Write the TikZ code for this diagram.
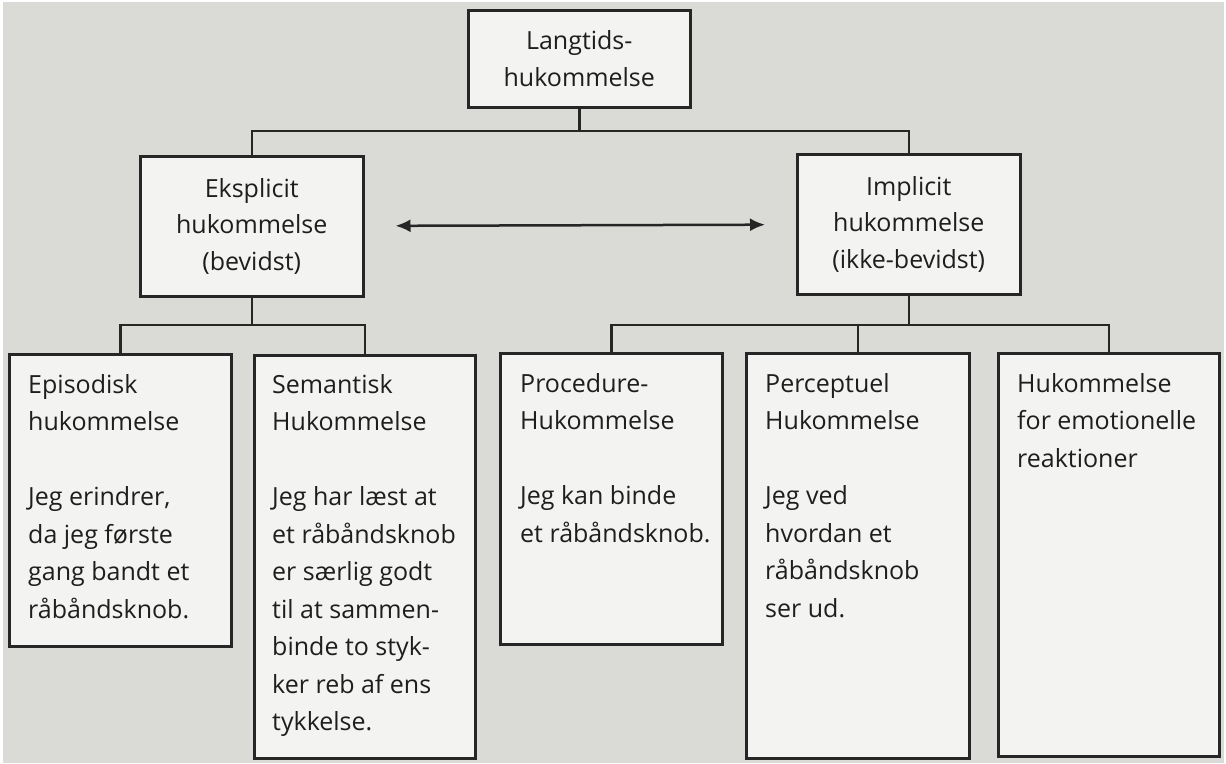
\documentclass[tikz,border=0pt]{standalone}
\usepackage{fontspec}
\setmainfont{Open Sans}
\usetikzlibrary{arrows.meta}
\definecolor{bgcol}{HTML}{DADAD6}
\definecolor{boxfill}{HTML}{F3F3F1}
\definecolor{linecol}{HTML}{262626}
\definecolor{txtcol}{HTML}{1E1E1E}
\begin{document}
\begin{tikzpicture}[x=1pt,y=-1pt,
  box/.style={draw=linecol, line width=2.5pt, fill=boxfill, inner sep=0pt, anchor=north west},
  topbox/.style={box, align=center, text=txtcol, font=\fontsize{25}{36.5}\selectfont},
  btxt/.style={anchor=north west, inner sep=0pt, align=left, text=txtcol, font=\fontsize{25}{37.5}\selectfont},
  conn/.style={draw=linecol, line width=2.5pt},
  dbl/.style={conn, {Latex[length=15pt,width=13pt]}-{Latex[length=15pt,width=13pt]}, shorten <=31pt, shorten >=31pt}]
% background
\fill[white] (0,0) rectangle (1226,763);
\fill[bgcol] (3,2) rectangle (1224,763);
\useasboundingbox (0,0) rectangle (1226,763);
% helper levels
\coordinate (hy1) at (0,131);
\coordinate (hy2) at (0,325);
% top level
\node[topbox, minimum width=222pt, minimum height=97pt] (lt) at (467,9) {Langtids-\\hukommelse};
\node[topbox, minimum width=223pt, minimum height=140pt] (ek) at (139,155) {Eksplicit\\hukommelse\\(bevidst)};
\node[topbox, minimum width=223pt, minimum height=140pt] (im) at (796,153) {Implicit\\hukommelse\\(ikke-bevidst)};
% bottom boxes
\node[box, minimum width=222pt, minimum height=292pt] (epi) at (8,353) {};
\node[box, minimum width=221pt, minimum height=403pt] (sem) at (253,354) {};
\node[box, minimum width=222pt, minimum height=291pt] (pro) at (499,352) {};
\node[box, minimum width=223pt, minimum height=405pt] (per) at (745,352) {};
\node[box, minimum width=221pt, minimum height=403pt] (emo) at (997,352) {};
% texts in bottom boxes
\node[btxt] (epit) at ([shift={(20,13.75)}]epi.north west) {\strut Episodisk\\hukommelse\\[37.5pt]Jeg erindrer,\\da jeg første\\gang bandt et\\råbåndsknob.};
\node[btxt] (semt) at ([shift={(19,12.75)}]sem.north west) {\strut Semantisk\\Hukommelse\\[37.5pt]Jeg har læst at\\et råbåndsknob\\er særlig godt\\til at sammen-\\binde to styk-\\ker reb af ens\\tykkelse.};
\node[btxt] (prot) at ([shift={(21,13.75)}]pro.north west) {\strut Procedure-\\Hukommelse\\[37.5pt]Jeg kan binde\\et råbåndsknob.};
\node[btxt] (pert) at ([shift={(20,13.75)}]per.north west) {\strut Perceptuel\\Hukommelse\\[37.5pt]Jeg ved\\hvordan et\\råbåndsknob\\ser ud.};
\node[btxt] (emot) at ([shift={(20,13.75)}]emo.north west) {\strut Hukommelse\\for emotionelle\\reaktioner};
% connectors
\draw[conn] (lt.south) -- (lt.south |- hy1) -| (ek.north);
\draw[conn] (lt.south |- hy1) -| (im.north);
\draw[conn] (ek.south) -- (ek.south |- hy2) -| (epi.north);
\draw[conn] (ek.south |- hy2) -| (sem.north);
\draw[conn] (im.south) -- (im.south |- hy2) -| (pro.north);
\draw[conn] (im.south |- hy2) -| (per.north);
\draw[conn] (im.south |- hy2) -| (emo.north);
% double arrow
\draw[dbl] (ek) -- (im);
\end{tikzpicture}
\end{document}
